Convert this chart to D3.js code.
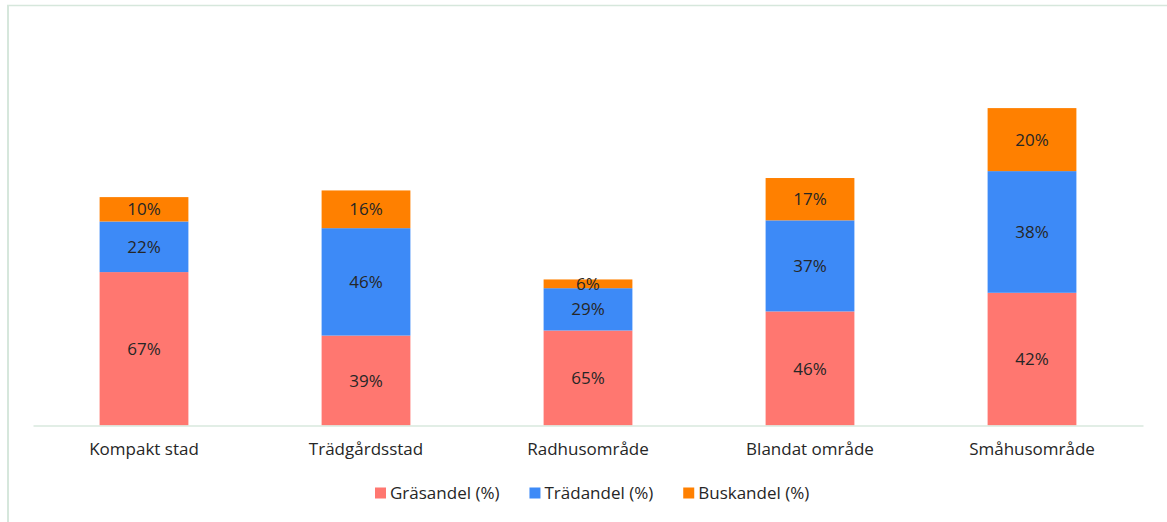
<!DOCTYPE html>
<html>
<head>
<meta charset="utf-8">
<script src="https://cdn.jsdelivr.net/npm/d3@7"></script>
<style>
	html, body { margin: 0; padding: 0; background: #fff; }
	svg { display: block; font-family: "Open Sans", "Noto Sans", sans-serif; }
</style>
</head>
<body>
<svg id="chart"></svg>
<script>
// kategorier
const categories = ["Kompakt stad", "Trädgårdsstad", "Radhusområde", "Blandat område", "Småhusområde"];

// serier (absoluta värden, staplas)
const seriesNames = ["Gräsandel (%)", "Trädandel (%)", "Buskandel (%)"];
const grasValues = [66.7, 39.1, 41.3, 49.6, 57.7];
const tradValues = [22.0, 46.7, 18.4, 39.6, 52.9];
const buskValues = [10.6, 16.4, 3.8, 18.4, 27.4];

// dataetiketter (andel av stapeln)
const grasLabels = [67, 39, 65, 46, 42];
const tradLabels = [22, 46, 29, 37, 38];
const buskLabels = [10, 16, 6, 17, 20];

const colors = ["#ff7770", "#3d8af7", "#ff8000"];

const width = 1167;
const height = 522;
const fontSize = "17px";

const svg = d3.select("#chart")
              .attr("width", width)
              .attr("height", height);

// ram (vänster + topp)
svg.append("line")
   .attr("x1", 8).attr("x2", 8).attr("y1", 5).attr("y2", height)
   .attr("stroke", "#d6e7dc").attr("stroke-width", 2);
svg.append("line")
   .attr("x1", 7).attr("x2", width).attr("y1", 5.5).attr("y2", 5.5)
   .attr("stroke", "#d6e7dc").attr("stroke-width", 1.5);

// tabell för stack
const table = categories.map((c, i) => ({
	cat: c,
	s0: grasValues[i], s1: tradValues[i], s2: buskValues[i],
	l0: grasLabels[i], l1: tradLabels[i], l2: buskLabels[i]
}));
const stack = d3.stack().keys(["s0", "s1", "s2"])(table);

const xScale = d3.scaleBand(categories, [33, 1143]).paddingInner(0.6).paddingOuter(0.3);
const yScale = d3.scaleLinear([0, 150], [425.5, 80.5]);

// staplar
const layer = svg.append("g")
                 .selectAll("g")
                 .data(stack)
                 .join("g")
                 .attr("fill", (d, i) => colors[i]);

layer.selectAll("rect")
     .data(d => d)
     .join("rect")
     .attr("x", d => xScale(d.data.cat))
     .attr("width", xScale.bandwidth())
     .attr("y", d => yScale(d[1]))
     .attr("height", d => yScale(d[0]) - yScale(d[1]));

// etiketter
stack.forEach((s, k) => {
	svg.append("g")
	   .selectAll("text")
	   .data(s)
	   .join("text")
	   .attr("x", d => xScale(d.data.cat) + xScale.bandwidth() / 2)
	   .attr("y", d => (yScale(d[0]) + yScale(d[1])) / 2)
	   .attr("dy", "0.36em")
	   .attr("text-anchor", "middle")
	   .attr("fill", "#262626")
	   .style("font-size", fontSize)
	   .text(d => d.data["l" + k] + "%");
});

// x-axel
svg.append("g")
   .attr("transform", "translate(0, 425.5)")
   .call(d3.axisBottom(xScale).tickSize(0).tickSizeOuter(0).tickPadding(17))
   .call(g => g.select(".domain").attr("stroke", "#d9e8de").attr("stroke-width", 1.5))
   .call(g => g.selectAll(".tick text")
               .attr("fill", "#262626")
               .style("font-size", fontSize)
               .style("font-family", "'Open Sans', 'Noto Sans', sans-serif"));

// legend
const legend = svg.append("g").attr("transform", "translate(0, 493)");
let lx = 375;
seriesNames.forEach((name, i) => {
	legend.append("rect")
	      .attr("x", lx).attr("y", -5.5)
	      .attr("width", 11).attr("height", 11)
	      .attr("fill", colors[i]);
	const t = legend.append("text")
	                .attr("x", lx + 15)
	                .attr("y", 0)
	                .attr("dy", "0.36em")
	                .attr("fill", "#262626")
	                .style("font-size", fontSize)
	                .text(name);
	lx += 15 + t.node().getComputedTextLength() + 30;
});
</script>
</body>
</html>
